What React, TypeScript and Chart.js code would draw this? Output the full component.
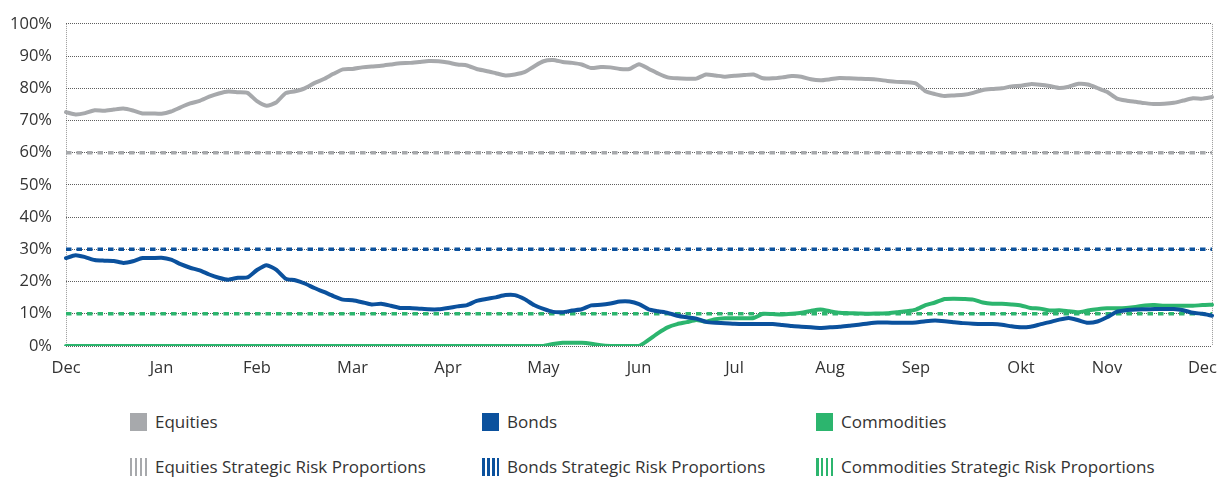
import React, { useEffect, useRef } from 'react';
import { Chart, registerables } from 'chart.js';

Chart.register(...registerables);

// ---- Data ----
const pointCount = 121;
const monthLabels = ['Dec', 'Jan', 'Feb', 'Mar', 'Apr', 'May', 'Jun', 'Jul', 'Aug', 'Sep', 'Okt', 'Nov', 'Dec'];
const monthTickIndex = [0, 10, 20, 30, 40, 50, 60, 70, 80, 89, 100, 109, 119];

const equities = [
  72.6, 71.9, 72.3, 73.2, 73.0, 73.4, 73.7, 73.1, 72.2, 72.2,
  72.1, 72.8, 74.1, 75.3, 76.1, 77.4, 78.4, 79.0, 78.8, 78.6,
  76.0, 74.6, 75.6, 78.5, 79.1, 80.0, 81.6, 82.9, 84.5, 85.9,
  86.0, 86.5, 86.8, 87.0, 87.4, 87.8, 87.9, 88.2, 88.5, 88.4,
  88.0, 87.4, 87.1, 86.0, 85.4, 84.7, 84.0, 84.3, 85.0, 86.8,
  88.4, 88.8, 88.2, 87.9, 87.4, 86.3, 86.6, 86.5, 86.0, 86.0,
  87.5, 86.1, 84.6, 83.4, 83.1, 83.0, 83.0, 84.3, 84.0, 83.6,
  83.9, 84.1, 84.3, 83.1, 83.1, 83.4, 83.8, 83.6, 82.8, 82.5,
  82.8, 83.2, 83.1, 83.0, 82.9, 82.7, 82.3, 82.0, 81.9, 81.5,
  79.1, 78.2, 77.6, 77.8, 78.0, 78.6, 79.5, 79.8, 80.0, 80.6,
  80.8, 81.3, 81.1, 80.7, 80.1, 80.5, 81.4, 81.2, 80.1, 78.9,
  76.9, 76.2, 75.8, 75.4, 75.1, 75.2, 75.5, 76.2, 76.9, 76.8,
  77.3,
];

const bonds = [
  27.3, 28.2, 27.6, 26.7, 26.5, 26.4, 25.8, 26.3, 27.3, 27.3,
  27.4, 26.8, 25.4, 24.3, 23.5, 22.2, 21.2, 20.6, 21.2, 21.3,
  23.6, 25.1, 23.7, 20.9, 20.4, 19.4, 18.0, 16.8, 15.5, 14.4,
  14.2, 13.6, 12.9, 13.1, 12.5, 11.8, 11.8, 11.6, 11.4, 11.4,
  11.8, 12.3, 12.7, 14.0, 14.6, 15.1, 15.8, 15.8, 14.6, 12.7,
  11.5, 10.6, 10.5, 11.0, 11.4, 12.6, 12.8, 13.2, 13.8, 13.8,
  13.0, 11.4, 10.8, 10.3, 9.4, 8.9, 8.5, 7.5, 7.2, 7.1,
  6.9, 6.8, 6.8, 6.8, 6.8, 6.5, 6.2, 6.0, 5.8, 5.6,
  5.8, 6.0, 6.3, 6.6, 7.0, 7.3, 7.3, 7.2, 7.2, 7.3,
  7.7, 7.9, 7.7, 7.4, 7.1, 6.9, 6.8, 6.8, 6.6, 6.1,
  5.8, 6.0, 6.7, 7.4, 8.2, 8.7, 8.0, 7.2, 7.6, 8.9,
  10.6, 11.1, 11.3, 11.4, 11.5, 11.5, 11.5, 11.1, 10.3, 10.0,
  9.4,
];

const commodities = [
  0, 0, 0, 0, 0, 0, 0, 0, 0, 0,
  0, 0, 0, 0, 0, 0, 0, 0, 0, 0,
  0, 0, 0, 0, 0, 0, 0, 0, 0, 0,
  0, 0, 0, 0, 0, 0, 0, 0, 0, 0,
  0, 0, 0, 0, 0, 0, 0, 0, 0, 0,
  0, 0.6, 1.0, 1.0, 1.0, 0.7, 0.2, 0, 0, 0,
  0, 1.9, 4.0, 5.8, 6.8, 7.4, 8.1, 7.6, 8.3, 8.6,
  8.6, 8.6, 8.7, 10.0, 9.9, 9.8, 10.0, 10.3, 10.9, 11.3,
  10.8, 10.3, 10.2, 10.1, 10.0, 10.1, 10.2, 10.5, 10.8, 11.3,
  12.7, 13.5, 14.6, 14.7, 14.6, 14.4, 13.5, 13.1, 13.1, 12.9,
  12.6, 11.8, 11.6, 11.0, 11.1, 10.8, 10.5, 11.0, 11.4, 11.7,
  11.7, 11.8, 12.1, 12.6, 12.7, 12.5, 12.5, 12.5, 12.5, 12.7,
  12.8,
];

const equitiesStrategic = 60;
const bondsStrategic = 30;
const commoditiesStrategic = 10;

const yTickValues = [0, 10, 20, 30, 40, 50, 60, 70, 80, 90, 100];

const seriesNames = ['Equities', 'Bonds', 'Commodities'];
const strategicNames = [
  'Equities Strategic Risk Proportions',
  'Bonds Strategic Risk Proportions',
  'Commodities Strategic Risk Proportions',
];

// ---- Styles ----
const GRAY = '#a7a9ac';
const BLUE = '#0b519d';
const GREEN = '#2cb56e';
const colors = [GRAY, BLUE, GREEN];
const TEXT = '#333333';
const FONT = "'Open Sans', 'Noto Sans', sans-serif";

export default function App() {
  const canvasRef = useRef<HTMLCanvasElement | null>(null);

  useEffect(() => {
    if (!canvasRef.current) return;
    const labels: string[] = Array(pointCount).fill('');
    monthTickIndex.forEach((idx, k) => {
      labels[idx] = monthLabels[k];
    });
    const constant = (v: number) => Array(pointCount).fill(v);

    const strategic = (label: string, value: number, color: string) => ({
      label,
      data: constant(value),
      borderColor: color,
      borderWidth: 3.5,
      borderDash: [5.5, 5],
      pointRadius: 0,
      tension: 0,
      order: 5,
    });
    const series = (label: string, data: number[], color: string, order: number) => ({
      label,
      data,
      borderColor: color,
      borderWidth: 4,
      pointRadius: 0,
      tension: 0.2,
      borderJoinStyle: 'round' as const,
      borderCapStyle: 'round' as const,
      order,
    });

    const chart = new Chart(canvasRef.current, {
      type: 'line',
      data: {
        labels,
        datasets: [
          strategic(strategicNames[0], equitiesStrategic, GRAY),
          strategic(strategicNames[1], bondsStrategic, BLUE),
          strategic(strategicNames[2], commoditiesStrategic, GREEN),
          series(seriesNames[0], equities, GRAY, 3),
          series(seriesNames[2], commodities, GREEN, 2),
          series(seriesNames[1], bonds, BLUE, 1),
        ],
      },
      options: {
        animation: false,
        responsive: false,
        maintainAspectRatio: false,
        layout: { padding: { left: 0, right: 17, top: 17, bottom: 0 } },
        plugins: {
          legend: { display: false },
          tooltip: { enabled: false },
        },
        scales: {
          x: {
            type: 'category',
            offset: false,
            grid: {
              display: true,
              drawTicks: false,
              lineWidth: 1,
              color: (c: any) =>
                c.index === 0 || c.index === pointCount - 1 ? '#9a9a9a' : 'rgba(0,0,0,0)',
            },
            border: { display: false, dash: [1, 1] },
            ticks: {
              autoSkip: false,
              maxRotation: 0,
              minRotation: 0,
              padding: 12,
              color: TEXT,
              font: { family: FONT, size: 16.5 },
            },
            afterFit: (s: any) => {
              s.height = 39;
            },
          },
          y: {
            min: 0,
            max: 100,
            afterBuildTicks: (s: any) => {
              s.ticks = yTickValues.map((v) => ({ value: v }));
            },
            ticks: {
              padding: 14,
              color: TEXT,
              font: { family: FONT, size: 16.5 },
              callback: (v: any) => `${v}%`,
            },
            grid: { drawTicks: false, color: '#5e5e5e', lineWidth: 1 },
            border: { display: false, dash: [1, 1] },
            afterFit: (s: any) => {
              s.width = 66;
            },
          },
        },
      },
    });
    return () => chart.destroy();
  }, []);

  const colLeft = [130, 482, 816];
  const rowTop = [413, 458];

  const swatch = (color: string, striped: boolean) => ({
    width: 17,
    height: 18,
    flex: '0 0 auto',
    background: striped
      ? `repeating-linear-gradient(90deg, ${color} 0px, ${color} 2.5px, transparent 2.5px, transparent 5px)`
      : color,
  });

  return (
    <div
      style={{
        position: 'fixed',
        left: 0,
        top: 0,
        width: 1229,
        height: 478,
        background: '#ffffff',
        fontFamily: FONT,
      }}
    >
      <canvas
        ref={canvasRef}
        width={1229}
        height={385}
        style={{ position: 'absolute', left: 0, top: 0, width: 1229, height: 385 }}
      />
      {[seriesNames, strategicNames].map((names, r) =>
        names.map((name, c) => (
          <div
            key={`${r}-${c}`}
            style={{
              position: 'absolute',
              left: colLeft[c],
              top: rowTop[r],
              height: 18,
              display: 'flex',
              alignItems: 'center',
              gap: 8,
              whiteSpace: 'nowrap',
            }}
          >
            <div style={swatch(colors[c], r === 1)} />
            <span style={{ fontSize: 17, color: TEXT, lineHeight: '18px' }}>{name}</span>
          </div>
        ))
      )}
    </div>
  );
}
